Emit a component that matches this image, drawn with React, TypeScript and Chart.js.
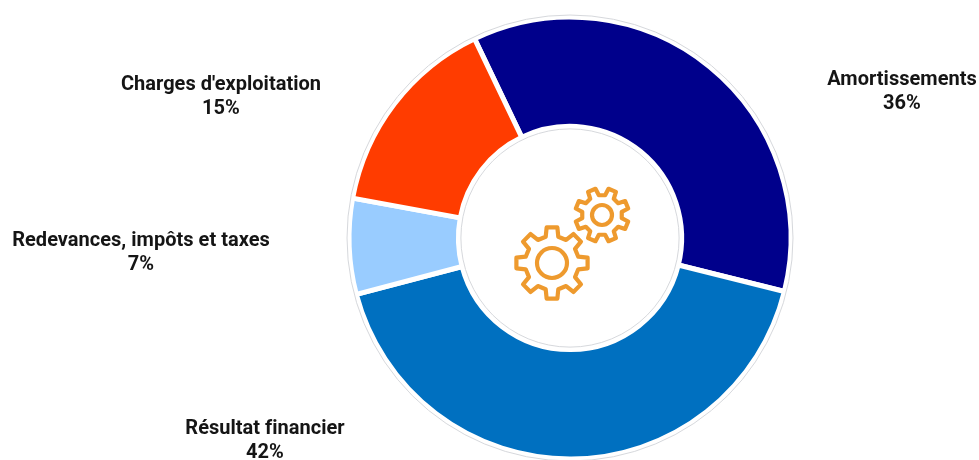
import { useEffect, useRef } from "react";
import { Chart, registerables } from "chart.js";

Chart.register(...registerables);

const categories = ["Amortissements", "Résultat financier", "Redevances, impôts et taxes", "Charges d'exploitation"];
const shares = [36, 42, 7, 15];
const sliceColors = ["#00008b", "#0070c0", "#99ccff", "#ff3c00"];
const labelAnchors = [
  [902, 80],
  [265, 429],
  [141, 241],
  [221, 85],
];
const gears = [
  { dx: -18, dy: 25, outer: 36, root: 27, ring: 15, turn: 0 },
  { dx: 32, dy: -23, outer: 27, root: 20, ring: 10, turn: Math.PI / 8 },
];

// Outline of an eight-toothed cog, built from its tip and root radii.
function gearPath(ctx: CanvasRenderingContext2D, cx: number, cy: number, outer: number, root: number, turn: number) {
  const teeth = 8;
  const step = (Math.PI * 2) / teeth;
  ctx.beginPath();
  for (let i = 0; i < teeth; i++) {
    const a = turn - Math.PI / 2 + i * step;
    const pts: [number, number][] = [
      [root, a - step * 0.3],
      [outer, a - step * 0.19],
      [outer, a + step * 0.19],
      [root, a + step * 0.3],
    ];
    pts.forEach(([r, t], k) => {
      const x = cx + r * Math.cos(t);
      const y = cy + r * Math.sin(t);
      if (i === 0 && k === 0) ctx.moveTo(x, y);
      else ctx.lineTo(x, y);
    });
  }
  ctx.closePath();
}

const decorations = {
  id: "decorations",
  afterDatasetsDraw(chart: Chart) {
    const { ctx } = chart;
    const arc = chart.getDatasetMeta(0).data[0] as any;
    const { x: cx, y: cy, outerRadius, innerRadius } = arc;

    ctx.save();
    // Hairline rims around the ring
    ctx.strokeStyle = "#d6d8dc";
    ctx.lineWidth = 1;
    for (const r of [outerRadius + 2, innerRadius - 2.5]) {
      ctx.beginPath();
      ctx.arc(cx, cy, r, 0, Math.PI * 2);
      ctx.stroke();
    }

    // Cogs in the hole
    ctx.strokeStyle = "#ee9a2e";
    ctx.lineWidth = 4.2;
    ctx.lineJoin = "round";
    for (const g of gears) {
      gearPath(ctx, cx + g.dx, cy + g.dy, g.outer, g.root, g.turn);
      ctx.stroke();
      ctx.beginPath();
      ctx.arc(cx + g.dx, cy + g.dy, g.ring, 0, Math.PI * 2);
      ctx.stroke();
    }

    // Category names with their shares; the tiny tracking keeps "fi" unligatured
    ctx.fillStyle = "#151515";
    ctx.font = "bold 20px Roboto";
    (ctx as any).letterSpacing = "0.02px";
    ctx.textAlign = "center";
    ctx.textBaseline = "middle";
    categories.forEach((name, i) => {
      const [x, y] = labelAnchors[i];
      ctx.fillText(name, x, y);
      ctx.fillText(`${shares[i]}%`, x, y + 24);
    });
    ctx.restore();
  },
};

export default function App() {
  const ref = useRef<HTMLCanvasElement>(null);
  useEffect(() => {
    document.body.style.margin = "0";
    const chart = new Chart(ref.current!, {
      type: "doughnut",
      data: {
        labels: categories,
        datasets: [
          {
            data: shares,
            backgroundColor: sliceColors,
            borderColor: "#ffffff",
            borderWidth: 5,
            hoverOffset: 0,
          },
        ],
      },
      options: {
        responsive: false,
        animation: false,
        rotation: -25.6,
        cutout: "50.5%",
        radius: 221,
        layout: { padding: { left: 161, top: 16 } },
        plugins: { legend: { display: false }, tooltip: { enabled: false } },
      },
      plugins: [decorations],
    });
    return () => chart.destroy();
  }, []);
  return <canvas ref={ref} width={979} height={460} style={{ display: "block" }} />;
}
